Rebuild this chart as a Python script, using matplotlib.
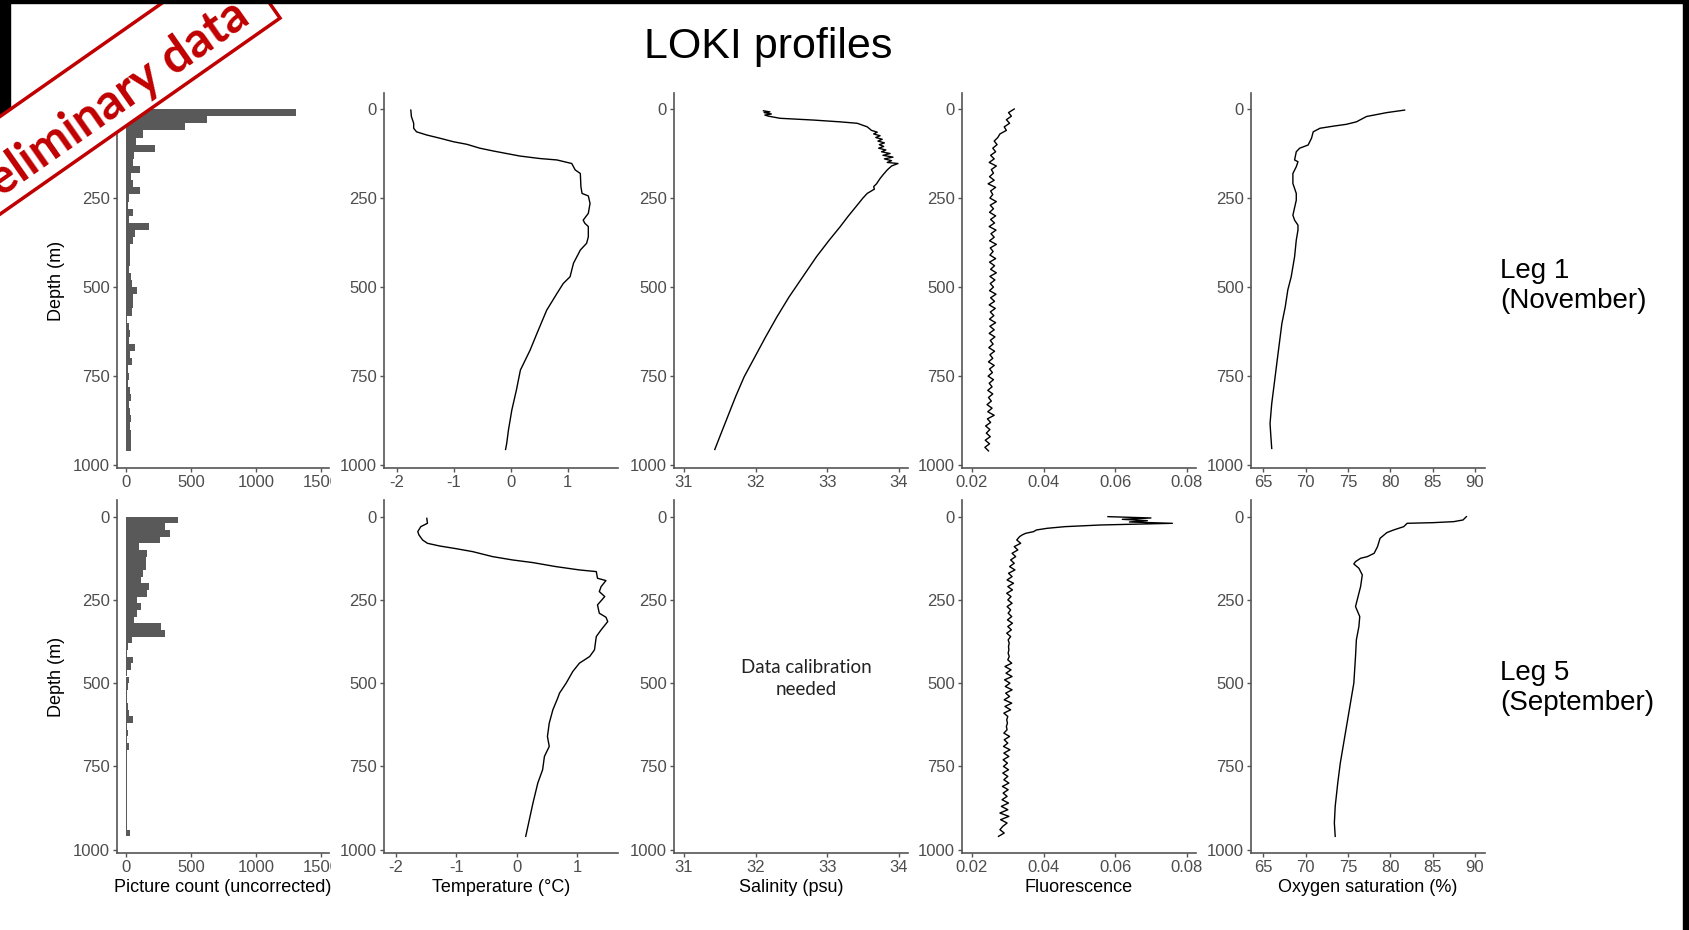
import numpy as np
import matplotlib
matplotlib.use("Agg")
import matplotlib.pyplot as plt
from matplotlib.patches import Rectangle
from matplotlib.transforms import Bbox

plt.rcParams['font.family'] = ['Liberation Sans', 'DejaVu Sans']

# ---- data ------------------------------------------------------------------
depth_ticks = [0, 250, 500, 750, 1000]
bin_width = 20
bin_centres = np.arange(10, 970, 20)

# picture counts in 20 m bins, 0-960 m
count_leg1 = [1310, 620, 457, 132, 76, 221, 61, 56, 107, 36,
              56, 107, 25, 13, 51, 25, 178, 71, 51, 32,
              30, 30, 25, 36, 43, 81, 56, 56, 43, 10,
              25, 30, 25, 69, 30, 43, 18, 25, 18, 30,
              36, 25, 30, 36, 30, 36, 36, 36]
count_leg5 = [398, 297, 340, 264, 102, 162, 152, 157, 132, 119,
              178, 162, 81, 112, 81, 61, 272, 297, 43, 18,
              10, 51, 36, 10, 25, 18, 8, 10, 13, 25,
              51, 10, 18, 8, 25, 8, 5, 8, 5, 8,
              5, 5, 8, 5, 5, 8, 10, 30]

temp_depth_leg1 = [3, 21, 40, 54, 64, 73, 82, 92, 99, 110,
                   118, 125, 132, 139, 143, 153, 171, 181, 218, 237,
                   244, 265, 293, 312, 321, 330, 359, 377, 396, 433,
                   471, 490, 518, 565, 630, 677, 733, 789, 845, 902,
                   939, 956]
temp_leg1 = [-1.75, -1.74, -1.70, -1.70, -1.65, -1.47, -1.24, -1.00, -0.77, -0.54,
             -0.30, -0.07, 0.16, 0.51, 0.81, 1.07, 1.13, 1.22, 1.23, 1.25,
             1.36, 1.39, 1.36, 1.27, 1.30, 1.36, 1.36, 1.33, 1.22, 1.10,
             1.04, 0.92, 0.81, 0.63, 0.46, 0.34, 0.17, 0.10, 0.02, -0.04,
             -0.07, -0.09]

temp_depth_leg5 = [5, 20, 30, 45, 55, 70, 80, 88, 96, 105,
                   120, 130, 138, 150, 160, 165, 185, 192, 210, 225,
                   240, 265, 290, 302, 315, 340, 360, 400, 420, 440,
                   465, 500, 530, 545, 580, 620, 660, 690, 720, 760,
                   800, 860, 910, 960]
temp_leg5 = [-1.49, -1.48, -1.59, -1.64, -1.62, -1.56, -1.48, -1.28, -1.01, -0.73,
             -0.40, -0.07, 0.27, 0.65, 1.04, 1.32, 1.34, 1.48, 1.40, 1.37,
             1.46, 1.34, 1.37, 1.48, 1.51, 1.40, 1.32, 1.29, 1.21, 1.04,
             0.93, 0.82, 0.71, 0.68, 0.60, 0.54, 0.51, 0.54, 0.46, 0.43,
             0.35, 0.27, 0.21, 0.15]

sal_depth_leg1 = [5, 8, 10, 14, 17, 20, 26, 31, 36, 40,
                  50, 60, 65, 70, 75, 80, 85, 90, 95, 100,
                  105, 110, 115, 120, 125, 130, 135, 140, 145, 150,
                  153, 160, 171, 185, 195, 210, 218, 225, 237, 250,
                  265, 302, 331, 368, 415, 471, 527, 583, 640, 696,
                  752, 808, 864, 920, 956]
sal_leg1 = [32.11, 32.20, 32.12, 32.22, 32.13, 32.18, 32.34, 32.81, 33.18, 33.42,
            33.56, 33.62, 33.70, 33.65, 33.74, 33.68, 33.77, 33.71, 33.80, 33.73,
            33.79, 33.72, 33.82, 33.76, 33.88, 33.78, 33.92, 33.80, 33.90, 33.84,
            33.99, 33.90, 33.84, 33.78, 33.74, 33.69, 33.65, 33.66, 33.56, 33.50,
            33.44, 33.29, 33.18, 33.03, 32.85, 32.66, 32.47, 32.30, 32.14, 31.99,
            31.84, 31.72, 31.61, 31.50, 31.43]

fluo_depth_leg1 = np.arange(0, 970, 10)
fluo_leg1 = [0.0318, 0.0302, 0.0310, 0.0296, 0.0305, 0.0290, 0.0296, 0.0278, 0.0272, 0.0262,
             0.0270, 0.0258, 0.0266, 0.0252, 0.0262, 0.0248, 0.0268, 0.0254, 0.0260, 0.0249,
             0.0262, 0.0245, 0.0266, 0.0252, 0.0258, 0.0250, 0.0268, 0.0251, 0.0260, 0.0249,
             0.0266, 0.0252, 0.0263, 0.0248, 0.0267, 0.0253, 0.0262, 0.0249, 0.0268, 0.0251,
             0.0259, 0.0250, 0.0266, 0.0249, 0.0263, 0.0252, 0.0268, 0.0250, 0.0264, 0.0251,
             0.0260, 0.0249, 0.0267, 0.0252, 0.0263, 0.0248, 0.0265, 0.0251, 0.0261, 0.0249,
             0.0266, 0.0250, 0.0262, 0.0248, 0.0264, 0.0251, 0.0259, 0.0247, 0.0263, 0.0250,
             0.0258, 0.0246, 0.0262, 0.0249, 0.0257, 0.0245, 0.0260, 0.0248, 0.0256, 0.0244,
             0.0258, 0.0246, 0.0254, 0.0242, 0.0256, 0.0244, 0.0262, 0.0243, 0.0252, 0.0238,
             0.0250, 0.0240, 0.0251, 0.0237, 0.0249, 0.0236, 0.0246]

fluo_depth_leg5 = [0, 4, 8, 12, 16, 20, 25, 30, 35, 40,
                   45, 50, 55, 60, 70, 80, 90, 100, 110, 120,
                   130, 140, 150, 160, 170, 180, 190, 200, 210, 220,
                   230, 240, 250, 260, 270, 280, 290, 300, 310, 320,
                   330, 340, 350, 360, 370, 380, 390, 400, 410, 420,
                   430, 440, 450, 460, 470, 480, 490, 500, 510, 520,
                   530, 540, 550, 560, 570, 580, 590, 600, 610, 620,
                   630, 640, 650, 660, 670, 680, 690, 700, 710, 720,
                   730, 740, 750, 760, 770, 780, 790, 800, 810, 820,
                   830, 840, 850, 860, 870, 880, 890, 900, 910, 920,
                   930, 940, 950, 960]
fluo_leg5 = [0.0580, 0.0700, 0.0620, 0.0690, 0.0640, 0.0760, 0.0560, 0.0460, 0.0410, 0.0380,
             0.0372, 0.0350, 0.0340, 0.0333, 0.0325, 0.0336, 0.0318, 0.0328, 0.0312, 0.0322,
             0.0308, 0.0318, 0.0305, 0.0320, 0.0302, 0.0312, 0.0298, 0.0316, 0.0300, 0.0313,
             0.0297, 0.0309, 0.0300, 0.0312, 0.0298, 0.0308, 0.0301, 0.0311, 0.0299, 0.0313,
             0.0300, 0.0310, 0.0297, 0.0308, 0.0301, 0.0304, 0.0302, 0.0303, 0.0301, 0.0304,
             0.0300, 0.0311, 0.0292, 0.0309, 0.0295, 0.0312, 0.0291, 0.0306, 0.0293, 0.0312,
             0.0294, 0.0305, 0.0290, 0.0311, 0.0292, 0.0308, 0.0289, 0.0300, 0.0297, 0.0299,
             0.0296, 0.0298, 0.0289, 0.0305, 0.0290, 0.0300, 0.0288, 0.0306, 0.0289, 0.0303,
             0.0287, 0.0299, 0.0288, 0.0302, 0.0286, 0.0300, 0.0289, 0.0303, 0.0285, 0.0301,
             0.0287, 0.0298, 0.0284, 0.0302, 0.0282, 0.0300, 0.0278, 0.0303, 0.0280, 0.0298,
             0.0286, 0.0278, 0.0290, 0.0274]

oxy_depth_leg1 = [3, 10, 21, 36, 43, 48, 54, 64, 82, 101,
                  110, 120, 143, 148, 162, 181, 209, 237, 256, 298,
                  312, 326, 340, 368, 415, 471, 508, 555, 602, 658,
                  714, 771, 827, 883, 920, 953]
oxy_leg1 = [81.7, 79.6, 77.2, 76.0, 74.8, 73.3, 71.7, 70.9, 70.7, 70.3,
            69.3, 68.9, 68.7, 69.1, 68.9, 68.5, 68.5, 68.9, 68.9, 68.5,
            68.7, 69.1, 69.1, 68.9, 68.7, 68.3, 67.9, 67.6, 67.2, 66.9,
            66.6, 66.3, 66.0, 65.8, 65.9, 66.0]

oxy_depth_leg5 = [0, 10, 15, 18, 20, 30, 40, 48, 65, 90,
                  110, 120, 125, 135, 142, 155, 175, 210, 250, 270,
                  300, 330, 370, 420, 500, 560, 620, 680, 740, 800,
                  870, 920, 960]
oxy_leg5 = [89.0, 88.6, 87.5, 85.1, 82.0, 81.6, 80.4, 79.6, 78.8, 78.5,
            78.1, 77.3, 76.5, 75.9, 75.7, 76.3, 76.7, 76.5, 76.1, 75.9,
            76.4, 76.3, 76.0, 75.9, 75.7, 75.3, 74.9, 74.5, 74.1, 73.8,
            73.5, 73.4, 73.5]

# ---- layout (pixel boxes of the panels in the 1690 x 930 picture) -----------
W, H = 1690, 930
fig = plt.figure(figsize=(W / 100, H / 100), dpi=100)

col_px = [(117, 329), (384, 618), (674, 908), (962, 1196), (1251, 1485)]
row_px = [(93, 468), (500, 853)]
row_ylim = [(1008, -45), (1010, -50)]

xlims = [[(-69, 1561), (-2.22, 1.88), (30.86, 34.13), (0.0172, 0.0826), (63.55, 91.2)],
         [(-69, 1561), (-2.20, 1.68), (30.86, 34.13), (0.0172, 0.0826), (63.55, 91.2)]]
xticks = [[0, 500, 1000, 1500], [-2, -1, 0, 1], [31, 32, 33, 34],
          [0.02, 0.04, 0.06, 0.08], [65, 70, 75, 80, 85, 90]]
xticklabels = [['0', '500', '1000', '1500'], ['-2', '-1', '0', '1'],
               ['31', '32', '33', '34'], ['0.02', '0.04', '0.06', '0.08'],
               ['65', '70', '75', '80', '85', '90']]
xlabels = ['Picture count (uncorrected)', 'Temperature (°C)', 'Salinity (psu)',
           'Fluorescence', 'Oxygen saturation (%)']

axis_col = '#555555'
axes = []
for r, (top, bot) in enumerate(row_px):
    row = []
    for c, (x0, x1) in enumerate(col_px):
        ax = fig.add_axes([x0 / W, 1 - bot / H, (x1 - x0) / W, (bot - top) / H])
        ax.set_xlim(*xlims[r][c])
        ax.set_ylim(*row_ylim[r])
        ax.set_xticks(xticks[c])
        ax.set_xticklabels(xticklabels[c])
        ax.set_yticks(depth_ticks)
        for s in ['top', 'right']:
            ax.spines[s].set_visible(False)
        for s in ['left', 'bottom']:
            ax.spines[s].set_color(axis_col)
            ax.spines[s].set_linewidth(1.2)
        ax.tick_params(length=3, width=1, color=axis_col, labelcolor='#4D4D4D',
                       labelsize=12, pad=2)
        if c == 0:
            ax.set_ylabel('Depth (m)', fontsize=13, labelpad=6)
        if r == 1:
            ax.set_xlabel(xlabels[c], fontsize=13, labelpad=3)
        row.append(ax)
    axes.append(row)

bar_col = '#595959'
line_kw = dict(color='black', lw=1.0)

# Leg 1
axes[0][0].barh(bin_centres, count_leg1, height=bin_width, color=bar_col)
axes[0][1].plot(temp_leg1, temp_depth_leg1, **line_kw)
axes[0][2].plot(sal_leg1, sal_depth_leg1, **line_kw)
axes[0][3].plot(fluo_leg1, fluo_depth_leg1, **line_kw)
axes[0][4].plot(oxy_leg1, oxy_depth_leg1, **line_kw)

# Leg 5
axes[1][0].barh(bin_centres, count_leg5, height=bin_width, color=bar_col)
axes[1][1].plot(temp_leg5, temp_depth_leg5, **line_kw)
axes[1][2].text(32.71, 486, 'Data calibration\nneeded', ha='center', va='center',
                family=['Lato', 'DejaVu Sans'], fontsize=13.5, color='#222222',
                linespacing=1.3)
axes[1][3].plot(fluo_leg5, fluo_depth_leg5, **line_kw)
axes[1][4].plot(oxy_leg5, oxy_depth_leg5, **line_kw)

# the "1500" label is cut off at the edge of the first panel
clip = Bbox.from_extents(0, 0, 331, H)
for r in range(2):
    lbl = axes[r][0].get_xticklabels()[-1]
    lbl.set_clip_on(True)
    lbl.set_clip_box(clip)

# ---- texts ------------------------------------------------------------------
fig.text(768 / W, 1 - 47 / H, 'LOKI profiles', ha='center', va='center', fontsize=31)
fig.text(1500 / W, 1 - 286 / H, 'Leg 1\n(November)', ha='left', va='center',
         fontsize=20, linespacing=1.2)
fig.text(1500 / W, 1 - 688 / H, 'Leg 5\n(September)', ha='left', va='center',
         fontsize=20, linespacing=1.2)

# ---- frame and "Preliminary data" stamp ------------------------------------
fig.add_artist(Rectangle((0, 1 - 150 / H), 10 / W, 150 / H, transform=fig.transFigure,
                         color='black', zorder=5))
fig.add_artist(Rectangle((1683 / W, 0), 7 / W, 1, transform=fig.transFigure,
                         color='black', zorder=10))

ang = 35
fig.add_artist(Rectangle((-0.64, 6.71), 4.2, 0.8, angle=ang,
                         transform=fig.dpi_scale_trans, facecolor='white',
                         edgecolor='#C00000', lw=2.5, zorder=6))
fig.text(0.98, 8.18, 'Preliminary data', transform=fig.dpi_scale_trans,
         rotation=ang, rotation_mode='anchor', ha='center', va='center',
         color='#C00000', fontsize=35, fontweight='bold',
         family=['Lato', 'DejaVu Sans'], zorder=7)

fig.add_artist(Rectangle((0, 1 - 3 / H), 1, 3 / H, transform=fig.transFigure,
                         color='black', zorder=10))

fig.savefig('out.png', dpi=100, facecolor='white')
